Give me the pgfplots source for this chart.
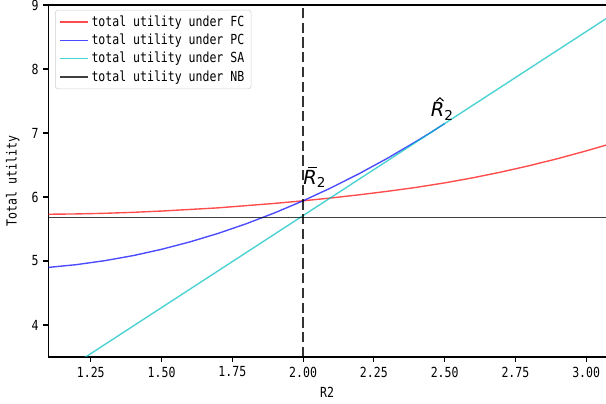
\documentclass[border=0pt]{standalone}
\usepackage{pgfplots}
\pgfplotsset{compat=1.18}
\usepackage{fontspec}
\newfontfamily\simfont[FakeStretch=0.83]{DejaVu Sans Mono}
\newfontfamily\dejavu{DejaVu Sans}
\definecolor{cyanc}{RGB}{0,191,191}
\begin{document}
\begin{tikzpicture}
\begin{axis}[
  scale only axis, width=401.5pt, height=253.4pt,
  xmin=1.1, xmax=3.07, ymin=3.5, ymax=9,
  axis x line=box, axis y line=left,
  x axis line style={-}, y axis line style={-},
  axis line style={line width=0.8pt, black},
  xtick={1.25,1.5,1.75,2,2.25,2.5,2.75,3},
  xticklabels={1.25,1.50,1.75,2.00,2.25,2.50,2.75,3.00},
  ytick={4,5,6,7,8,9}, yticklabels={4,5,6,7,8,9},
  xtick pos=left, ytick pos=left, tick align=outside,
  major tick length=3.5pt,
  every tick/.style={black, line width=0.8pt},
  tick label style={font=\simfont},
  every axis x label/.style={at={(axis description cs:0.5,-0.0994)}, anchor=center, font=\simfont},
  every axis y label/.style={at={(axis description cs:-0.064,0.5)}, rotate=90, anchor=center, font=\simfont},
  xlabel={R2}, ylabel={Total utility},
  legend style={at={(0.012,0.986)}, anchor=north west, draw=black!18, rounded corners=2pt,
    fill=white, fill opacity=0.8, text opacity=1, font=\simfont,
    inner xsep=3pt, inner ysep=2pt, row sep=0pt},
  legend cell align=left,
  legend image code/.code={\draw[#1] (0pt,0pt) -- (20pt,0pt);},
  clip=true,
]
\addplot[red, opacity=0.7, line width=1pt] coordinates {
(1.1,5.73) (1.2,5.735) (1.3,5.745) (1.4,5.76) (1.5,5.78) (1.6,5.805) (1.7,5.83)
(1.8,5.865) (1.9,5.90) (2.0,5.94) (2.1,5.985) (2.2,6.035) (2.3,6.09) (2.4,6.15)
(2.5,6.22) (2.6,6.30) (2.7,6.39) (2.8,6.49) (2.9,6.60) (3.0,6.72) (3.07,6.81)};
\addlegendentry{total utility under FC}
\addplot[blue, opacity=0.7, line width=1pt] coordinates {
(1.1,4.899) (1.2,4.943) (1.3,5.005) (1.4,5.084) (1.5,5.182) (1.6,5.298) (1.7,5.431)
(1.8,5.583) (1.9,5.753) (2.0,5.94) (2.1,6.146) (2.2,6.369) (2.3,6.610) (2.4,6.870)
(2.45,7.005) (2.5,7.147)};
\addlegendentry{total utility under PC}
\addplot[cyanc, opacity=0.7, line width=1pt] coordinates {(1.1,3.121) (3.07,8.786)};
\addlegendentry{total utility under SA}
\addplot[black, opacity=0.75, line width=1.1pt] coordinates {(1.1,5.68) (3.07,5.68)};
\addlegendentry{total utility under NB}
\addplot[black, opacity=0.8, line width=2pt, dash pattern=on 7.4pt off 3.2pt, forget plot]
  coordinates {(2,3.5) (2,9)};
\node[name=rbar, anchor=base west, inner sep=0pt, font=\dejavu\fontsize{14}{16}\selectfont]
  at (axis cs:2.0,6.2) {\itshape R\textsubscript{\upshape 2}};
\node[name=rhat, anchor=base west, inner sep=0pt, font=\dejavu\fontsize{14}{16}\selectfont]
  at (axis cs:2.45,7.25) {\itshape R\textsubscript{\upshape 2}};
\end{axis}
\draw[line width=0.75pt] ([shift={(3.6pt,12.0pt)}]rbar.base west) -- ++(6.2pt,0pt);
\draw[line width=0.75pt] ([shift={(4.2pt,11.4pt)}]rhat.base west) -- ++(2.6pt,2.4pt) -- ++(2.6pt,-2.4pt);
\pgfresetboundingbox
\path[use as bounding box] (-34.8pt,-33.8pt) rectangle (401.5pt,257pt);
\end{tikzpicture}
\end{document}
